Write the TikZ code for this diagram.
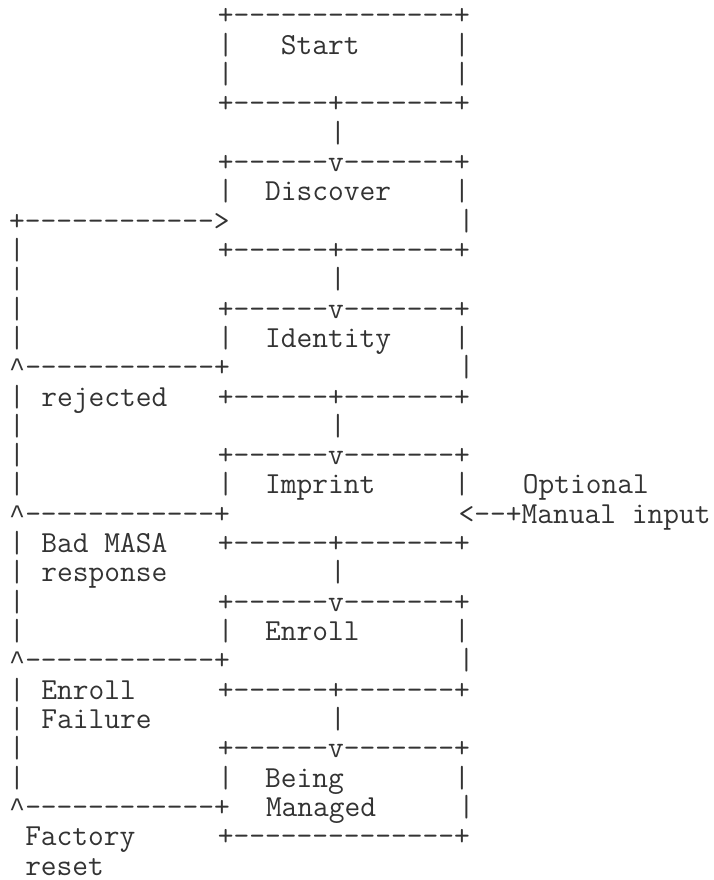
\documentclass[tikz,border=0pt]{standalone}
\usepackage{fontspec}
\newfontfamily\caretfont{Liberation Mono}
% a full-size caret, one cell wide
\newcommand{\upcaret}{{\caretfont\fontsize{26.75pt}{29.31pt}\selectfont\textasciicircum}}

\begin{document}
\begin{tikzpicture}[x=16.05pt, y=-29.31pt,
  ascii/.style={anchor=base west, inner sep=0pt, text=black!80, font=\ttfamily\fontsize{30.57pt}{29.31pt}\selectfont}]
\useasboundingbox (0pt,0pt) rectangle (714pt,-880pt);
\begin{scope}[shift={(9pt,-25pt)}, every node/.style={ascii}]
% one character cell = one x unit, one text row = one y unit
\node (startTop) at (13,0) {+--------------+};
\node (start) at (13,1) {|~~~Start~~~~~~|};
\node (startGap) at (13,2) {|~~~~~~~~~~~~~~|};
\node (startBot) at (13,3) {+------+-------+};
\node (link1) at (20,4) {|};
\node (discTop) at (13,5) {+------v-------+};
\node (discover) at (13,6) {|~~Discover~~~~|};
\node (retry) at (0,7) {+------------>}; \node (discSide) at (28,7) {|};
\node (discBot) at (13,8) {+------+-------+};
\node (link2) at (20,9) {|};
\node (identTop) at (13,10) {+------v-------+};
\node (identity) at (13,11) {|~~Identity~~~~|};
\node (rejBack) at (0,12) {\upcaret------------+}; \node (identSide) at (28,12) {|};
\node (rejected) at (2,13) {rejected}; \node (identBot) at (13,13) {+------+-------+};
\node (link3) at (20,14) {|};
\node (impTop) at (13,15) {+------v-------+};
\node (imprint) at (13,16) {|~~Imprint~~~~~|}; \node (optional) at (32,16) {Optional};
\node (masaBack) at (0,17) {\upcaret------------+}; \node (manual) at (28,17) {<--+Manual input};
\node (badMasa) at (2,18) {Bad MASA}; \node (impBot) at (13,18) {+------+-------+};
\node (response) at (2,19) {response}; \node (link4) at (20,19) {|};
\node (enrTop) at (13,20) {+------v-------+};
\node (enroll) at (13,21) {|~~Enroll~~~~~~|};
\node (enrBack) at (0,22) {\upcaret------------+}; \node (enrSide) at (28,22) {|};
\node (enrFail) at (2,23) {Enroll}; \node (enrBot) at (13,23) {+------+-------+};
\node (failure) at (2,24) {Failure}; \node (link5) at (20,24) {|};
\node (mgdTop) at (13,25) {+------v-------+};
\node (being) at (13,26) {|~~Being~~~~~~~|};
\node (resetBack) at (0,27) {\upcaret------------+}; \node (managed) at (16,27) {Managed}; \node (mgdSide) at (28,27) {|};
\node (factory) at (1,28) {Factory}; \node (mgdBot) at (13,28) {+--------------+};
\node (reset) at (1,29) {reset};
% left return line
\foreach \r in {8,9,10,11,13,14,15,16,18,19,20,21,23,24,25,26}
  \node (bar\r) at (0,\r) {|};
\end{scope}
\end{tikzpicture}
\end{document}
